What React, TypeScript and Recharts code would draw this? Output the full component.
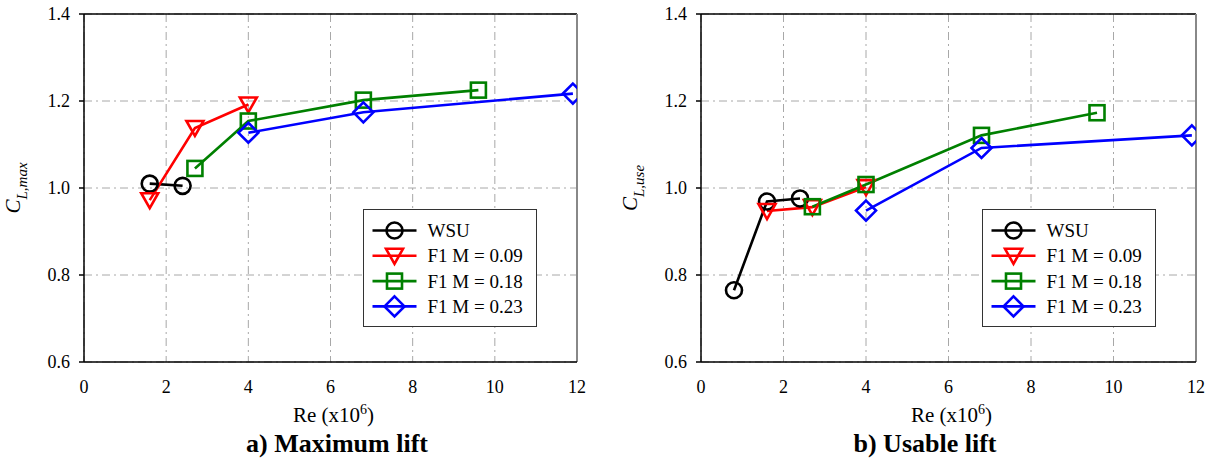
import {
  CartesianGrid,
  Legend,
  Line,
  LineChart,
  ReferenceLine,
  XAxis,
  YAxis,
} from "recharts";

const SERIF = "Liberation Serif, Tinos, Times New Roman, DejaVu Serif, serif";

const reTicks = [0, 2, 4, 6, 8, 10, 12];
const clTicks = [0.6, 0.8, 1.0, 1.2, 1.4];

// a) maximum lift
const maxWsu = [
  { re: 1.6, cl: 1.01 },
  { re: 2.4, cl: 1.005 },
];
const maxM009 = [
  { re: 1.6, cl: 0.972 },
  { re: 2.7, cl: 1.138 },
  { re: 4.0, cl: 1.192 },
];
const maxM018 = [
  { re: 2.7, cl: 1.045 },
  { re: 4.0, cl: 1.154 },
  { re: 6.8, cl: 1.202 },
  { re: 9.6, cl: 1.225 },
];
const maxM023 = [
  { re: 4.0, cl: 1.127 },
  { re: 6.8, cl: 1.174 },
  { re: 11.9, cl: 1.217 },
];

// b) usable lift
const useWsu = [
  { re: 0.8, cl: 0.765 },
  { re: 1.6, cl: 0.969 },
  { re: 2.4, cl: 0.976 },
];
const useM009 = [
  { re: 1.6, cl: 0.947 },
  { re: 2.7, cl: 0.956 },
  { re: 4.0, cl: 1.002 },
];
const useM018 = [
  { re: 2.7, cl: 0.957 },
  { re: 4.0, cl: 1.008 },
  { re: 6.8, cl: 1.121 },
  { re: 9.6, cl: 1.173 },
];
const useM023 = [
  { re: 4.0, cl: 0.948 },
  { re: 6.8, cl: 1.092 },
  { re: 11.9, cl: 1.121 },
];

const seriesNames = ["WSU", "F1 M = 0.09", "F1 M = 0.18", "F1 M = 0.23"];

type Shape = "circle" | "triangle" | "square" | "diamond";
type Pt = { re: number; cl: number };
type Series = { name: string; color: string; shape: Shape; data: Pt[] };

const styles: { color: string; shape: Shape }[] = [
  { color: "#000000", shape: "circle" },
  { color: "#ff0000", shape: "triangle" },
  { color: "#008000", shape: "square" },
  { color: "#0000ff", shape: "diamond" },
];

const makeSeries = (sets: Pt[][]): Series[] =>
  sets.map((data, i) => ({ name: seriesNames[i], ...styles[i], data }));

const maxSeries = makeSeries([maxWsu, maxM009, maxM018, maxM023]);
const useSeries = makeSeries([useWsu, useM009, useM018, useM023]);

function Marker({ cx, cy, shape, color }: { cx?: number; cy?: number; shape: Shape; color: string }) {
  if (cx == null || cy == null) return null;
  const p = { fill: "none", stroke: color, strokeWidth: 2.6 };
  if (shape === "circle") return <circle cx={cx} cy={cy} r={8} {...p} />;
  if (shape === "triangle")
    return <polygon points={`${cx - 8.5},${cy - 7} ${cx + 8.5},${cy - 7} ${cx},${cy + 8}`} {...p} />;
  if (shape === "square") return <rect x={cx - 7.5} y={cy - 7.5} width={15} height={15} {...p} />;
  return <polygon points={`${cx},${cy - 10} ${cx + 10},${cy} ${cx},${cy + 10} ${cx - 10},${cy}`} {...p} />;
}

function LegendBox({ series }: { series: Series[] }) {
  return (
    <div
      style={{
        width: 174,
        height: 118,
        border: "1.5px solid #333",
        background: "#fff",
        boxSizing: "border-box",
      }}
    >
      <svg width={171} height={115} style={{ display: "block" }}>
        {series.map((s, i) => {
          const y = 20.5 + i * 25.3;
          return (
            <g key={s.name}>
              <line x1={8.5} x2={52.5} y1={y} y2={y} stroke={s.color} strokeWidth={2.6} />
              <Marker cx={30.5} cy={y} shape={s.shape} color={s.color} />
              <text x={63.5} y={y} dy="0.35em" fontSize={19} style={{ fontFamily: SERIF }} fill="#000">
                {s.name}
              </text>
            </g>
          );
        })}
      </svg>
    </div>
  );
}

function Panel({
  left,
  width,
  marginLeft,
  marginRight,
  series,
  sub,
  title,
  titleCenter,
  legendLeft,
}: {
  left: number;
  width: number;
  marginLeft: number;
  marginRight: number;
  series: Series[];
  sub: string;
  title: string;
  titleCenter: number;
  legendLeft: number;
}) {
  return (
    <div style={{ position: "absolute", left, top: 0, width, height: 467, fontFamily: SERIF }}>
      <LineChart
        width={width}
        height={440}
        margin={{ top: 14, right: marginRight, left: marginLeft, bottom: 48 }}
        style={{ fontFamily: SERIF }}
      >
        <CartesianGrid stroke="#a8a8a8" strokeDasharray="8 4 2 4" />
        <XAxis
          dataKey="re"
          type="number"
          domain={[0, 12]}
          ticks={reTicks}
          allowDataOverflow
          height={30}
          axisLine={{ stroke: "#000", strokeWidth: 1.5 }}
          tickLine={false}
          tickSize={8}
          tickMargin={10}
          tick={{ fill: "#000", fontSize: 18, style: { fontFamily: SERIF } }}
          label={{
            content: (props: any) => {
              const vb = props.viewBox || {};
              return (
                <text
                  x={vb.x + vb.width / 2 + 3}
                  y={vb.y + 60}
                  textAnchor="middle"
                  fontSize={21}
                  style={{ fontFamily: SERIF }}
                  fill="#000"
                >
                  Re (x10
                  <tspan dy={-8} fontSize={14}>
                    6
                  </tspan>
                  <tspan dy={8}>)</tspan>
                </text>
              );
            },
          }}
        />
        <YAxis
          type="number"
          domain={[0.6, 1.4]}
          ticks={clTicks}
          allowDataOverflow
          width={60}
          axisLine={{ stroke: "#000", strokeWidth: 1.5 }}
          tickLine={{ stroke: "#000", strokeWidth: 1.5 }}
          tickSize={5}
          tickMargin={9}
          tickFormatter={(v: number) => v.toFixed(1)}
          tick={{ fill: "#000", fontSize: 18, style: { fontFamily: SERIF } }}
          label={{
            content: (props: any) => {
              const vb = props.viewBox || {};
              const x = vb.x + vb.width - 64;
              const y = vb.y + vb.height / 2;
              return (
                <text
                  transform={`translate(${x},${y}) rotate(-90)`}
                  textAnchor="middle"
                  style={{ fontFamily: SERIF }}
                  fontStyle="italic"
                  fill="#000"
                  fontSize={21}
                >
                  C
                  <tspan fontSize={15} dy={7}>
                    {sub}
                  </tspan>
                </text>
              );
            },
          }}
        />
        <ReferenceLine y={1.4} stroke="#000" strokeWidth={1.5} />
        <ReferenceLine x={12} stroke="#888" strokeWidth={2} />
        {series.map((s) => (
          <Line
            key={s.name}
            data={s.data}
            dataKey="cl"
            name={s.name}
            type="linear"
            stroke={s.color}
            strokeWidth={2.6}
            legendType="none"
            isAnimationActive={false}
            dot={(p: any) => (
              <Marker key={`${s.name}-${p.index}`} cx={p.cx} cy={p.cy} shape={s.shape} color={s.color} />
            )}
          />
        ))}
        <Legend
          layout="horizontal"
          verticalAlign="middle"
          align="center"
          wrapperStyle={{ left: legendLeft, top: 209, width: 174, height: 118 }}
          content={() => <LegendBox series={series} />}
        />
      </LineChart>
      <div
        style={{
          position: "absolute",
          left: titleCenter - 200,
          width: 400,
          top: 433,
          textAlign: "center",
          fontFamily: SERIF,
          fontWeight: "bold",
          fontSize: 26,
          lineHeight: "22px",
          color: "#000",
        }}
      >
        {title}
      </div>
    </div>
  );
}

export default function App() {
  return (
    <div style={{ position: "absolute", left: 0, top: 0, width: 1209, height: 467, background: "#fff" }}>
      <Panel
        left={0}
        width={600}
        marginLeft={24}
        marginRight={23}
        series={maxSeries}
        sub="L,max"
        title="a) Maximum lift"
        titleCenter={337}
        legendLeft={363}
      />
      <Panel
        left={600}
        width={609}
        marginLeft={41}
        marginRight={13}
        series={useSeries}
        sub="L,use"
        title="b) Usable lift"
        titleCenter={325}
        legendLeft={382}
      />
    </div>
  );
}
